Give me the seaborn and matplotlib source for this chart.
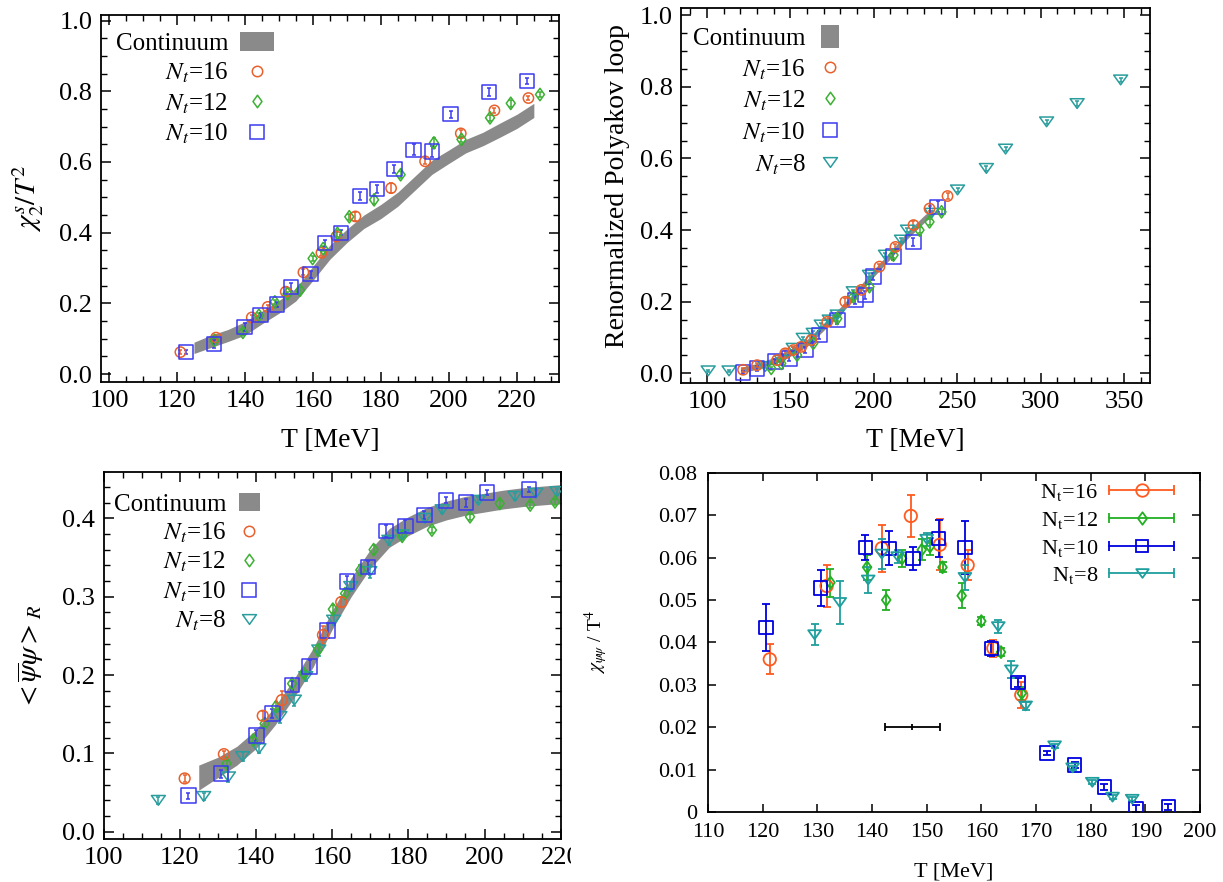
import numpy as np
import pandas as pd
import matplotlib
matplotlib.use("Agg")
import matplotlib.pyplot as plt
import seaborn as sns
from matplotlib.patches import Patch, Rectangle
from matplotlib.lines import Line2D
from matplotlib.path import Path
from matplotlib.markers import MarkerStyle
from matplotlib.legend_handler import HandlerLine2D, HandlerTuple
from matplotlib.ticker import MultipleLocator, FuncFormatter

# ---------------- Panel 1: strange quark number susceptibility ----------------
p1_band_T = [125, 130, 135, 140, 145, 150, 155, 160, 165, 170, 175, 180, 185, 190, 195, 200, 205, 210, 215, 220, 225]
p1_band_lo = [0.058, 0.075, 0.092, 0.110, 0.142, 0.172, 0.207, 0.265, 0.325, 0.372, 0.412, 0.440, 0.475, 0.520, 0.565, 0.596, 0.626, 0.646, 0.670, 0.695, 0.726]
p1_band_hi = [0.090, 0.110, 0.126, 0.148, 0.178, 0.208, 0.243, 0.305, 0.365, 0.410, 0.450, 0.480, 0.515, 0.560, 0.605, 0.634, 0.664, 0.684, 0.710, 0.735, 0.766]

p1_T16 = [121.0, 131.5, 142.0, 146.7, 152.0, 157.2, 162.5, 166.9, 172.5, 183.0, 193.0, 203.5, 213.4, 223.4]
p1_y16 = [0.062, 0.103, 0.160, 0.190, 0.233, 0.288, 0.343, 0.389, 0.446, 0.526, 0.602, 0.681, 0.746, 0.781]
p1_e16 = [0.006, 0.008, 0.006, 0.006, 0.012, 0.008, 0.008, 0.012, 0.012, 0.015, 0.008, 0.010, 0.008, 0.006]

p1_T12 = [131.0, 139.4, 144.1, 148.8, 152.5, 156.2, 159.9, 163.0, 167.2, 170.7, 178.0, 185.8, 195.6, 203.7, 212.1, 218.2, 226.8]
p1_y12 = [0.095, 0.118, 0.166, 0.204, 0.227, 0.237, 0.327, 0.355, 0.398, 0.445, 0.493, 0.564, 0.654, 0.664, 0.725, 0.766, 0.791]
p1_e12 = [0.006, 0.008, 0.006, 0.006, 0.006, 0.010, 0.008, 0.008, 0.010, 0.008, 0.012, 0.010, 0.015, 0.008, 0.008, 0.010, 0.008]

p1_T10 = [122.6, 131.0, 139.9, 144.6, 149.4, 153.6, 159.3, 163.6, 168.3, 173.8, 178.8, 184.0, 189.6, 195.1, 200.5, 211.7, 222.9]
p1_y10 = [0.062, 0.085, 0.133, 0.166, 0.197, 0.246, 0.282, 0.370, 0.400, 0.504, 0.523, 0.580, 0.635, 0.630, 0.735, 0.798, 0.829]
p1_e10 = [0.006, 0.010, 0.012, 0.008, 0.008, 0.012, 0.010, 0.010, 0.008, 0.012, 0.012, 0.012, 0.015, 0.015, 0.010, 0.010, 0.008]

# ---------------- Panel 2: renormalized Polyakov loop ----------------
p2_band_T = [120, 130, 140, 150, 160, 170, 180, 190, 200, 210, 220, 230, 235]
p2_band_lo = [0.000, 0.012, 0.026, 0.048, 0.075, 0.120, 0.165, 0.215, 0.270, 0.320, 0.375, 0.420, 0.440]
p2_band_hi = [0.016, 0.028, 0.044, 0.068, 0.095, 0.140, 0.185, 0.235, 0.290, 0.340, 0.395, 0.440, 0.460]

p2_T16 = [121.6, 130.0, 142.0, 146.9, 151.7, 156.5, 162.5, 172.1, 182.9, 192.5, 203.4, 213.0, 223.8, 233.4, 244.2]
p2_y16 = [0.010, 0.023, 0.037, 0.056, 0.065, 0.074, 0.093, 0.144, 0.200, 0.233, 0.298, 0.353, 0.414, 0.460, 0.495]
p2_e16 = [0.005, 0.006, 0.006, 0.008, 0.008, 0.010, 0.008, 0.008, 0.010, 0.008, 0.008, 0.008, 0.010, 0.008, 0.008]

p2_T12 = [138.5, 144.5, 154.0, 163.7, 178.1, 187.7, 197.4, 211.8, 227.4, 233.4, 240.6]
p2_y12 = [0.014, 0.028, 0.051, 0.084, 0.153, 0.214, 0.242, 0.330, 0.400, 0.423, 0.451]
p2_e12 = [0.005, 0.005, 0.006, 0.006, 0.006, 0.008, 0.008, 0.008, 0.008, 0.008, 0.008]

p2_T10 = [121.6, 130.0, 140.9, 149.3, 158.9, 167.3, 178.1, 188.9, 194.9, 199.8, 211.8, 223.8, 238.2]
p2_y10 = [0.002, 0.014, 0.033, 0.042, 0.065, 0.107, 0.149, 0.205, 0.219, 0.270, 0.326, 0.367, 0.465]
p2_e10 = [0.005, 0.006, 0.006, 0.008, 0.008, 0.010, 0.010, 0.012, 0.010, 0.010, 0.010, 0.012, 0.015]

p2_T8 = [100.7, 113.2, 134.9, 144.5, 151.7, 157.7, 163.7, 168.5, 173.3, 178.1, 187.7, 197.4, 207.0, 216.6, 220.2, 234.6, 250.2, 267.5, 279.0, 303.6, 321.9, 348.0]
p2_y8 = [0.007, 0.007, 0.019, 0.037, 0.070, 0.098, 0.112, 0.135, 0.149, 0.163, 0.228, 0.274, 0.330, 0.372, 0.400, 0.447, 0.512, 0.572, 0.626, 0.702, 0.753, 0.819]
p2_e8 = [0.003, 0.003, 0.004, 0.004, 0.004, 0.004, 0.005, 0.005, 0.005, 0.005, 0.005, 0.005, 0.006, 0.006, 0.006, 0.006, 0.006, 0.006, 0.006, 0.006, 0.006, 0.006]

# ---------------- Panel 3: renormalized chiral condensate ----------------
p3_band_T = [125, 130, 135, 140, 145, 150, 155, 160, 165, 170, 175, 180, 185, 190, 195, 200, 205, 210, 215, 220]
p3_band_lo = [0.053, 0.069, 0.085, 0.106, 0.136, 0.171, 0.210, 0.258, 0.300, 0.336, 0.363, 0.378, 0.390, 0.398, 0.404, 0.408, 0.412, 0.415, 0.417, 0.419]
p3_band_hi = [0.085, 0.095, 0.109, 0.130, 0.160, 0.195, 0.234, 0.282, 0.324, 0.360, 0.387, 0.402, 0.414, 0.422, 0.428, 0.432, 0.436, 0.439, 0.441, 0.443]

p3_T16 = [121.3, 131.6, 141.8, 146.8, 157.6, 162.4]
p3_y16 = [0.068, 0.099, 0.148, 0.168, 0.251, 0.293]
p3_e16 = [0.004, 0.004, 0.006, 0.012, 0.012, 0.006]

p3_T12 = [132.3, 139.3, 142.3, 145.3, 149.5, 152.6, 156.3, 160.2, 163.4, 167.4, 170.9, 178.4, 186.2, 196.2, 204.0, 212.0, 218.5]
p3_y12 = [0.087, 0.117, 0.138, 0.160, 0.189, 0.202, 0.232, 0.284, 0.304, 0.334, 0.360, 0.377, 0.385, 0.402, 0.419, 0.417, 0.421]
p3_e12 = [0.004, 0.004, 0.004, 0.005, 0.005, 0.005, 0.006, 0.005, 0.005, 0.006, 0.006, 0.005, 0.004, 0.004, 0.004, 0.004, 0.004]

p3_T10 = [122.3, 130.8, 140.1, 144.3, 149.5, 154.1, 158.8, 163.9, 169.4, 174.2, 179.2, 184.2, 189.9, 195.2, 200.7, 211.7]
p3_y10 = [0.046, 0.074, 0.123, 0.151, 0.187, 0.211, 0.257, 0.319, 0.338, 0.384, 0.390, 0.404, 0.423, 0.420, 0.433, 0.437]
p3_e10 = [0.004, 0.005, 0.007, 0.006, 0.006, 0.008, 0.010, 0.008, 0.008, 0.008, 0.008, 0.005, 0.004, 0.005, 0.003, 0.003]

p3_T8 = [114.4, 126.3, 132.8, 136.5, 140.8, 146.3, 150.1, 153.1, 156.5, 160.4, 164.9, 169.9, 174.9, 178.4, 184.4, 188.9, 198.4, 208.0, 213.5, 219.0]
p3_y8 = [0.040, 0.045, 0.070, 0.096, 0.106, 0.147, 0.168, 0.198, 0.232, 0.270, 0.313, 0.332, 0.372, 0.379, 0.400, 0.411, 0.423, 0.428, 0.432, 0.434]
p3_e8 = [0.004, 0.005, 0.006, 0.006, 0.006, 0.008, 0.008, 0.006, 0.008, 0.006, 0.006, 0.008, 0.006, 0.005, 0.004, 0.004, 0.004, 0.004, 0.004, 0.004]

# ---------------- Panel 4: chiral susceptibility ----------------
p4_T16 = [121.3, 131.7, 141.8, 147.1, 152.4, 157.5, 162.2, 167.3]
p4_y16 = [0.0360, 0.0533, 0.0622, 0.0698, 0.0630, 0.0582, 0.0386, 0.0276]
p4_e16 = [0.0035, 0.0050, 0.0055, 0.0050, 0.0060, 0.0035, 0.0020, 0.0030]

p4_T12 = [132.4, 139.1, 142.6, 145.5, 149.1, 150.6, 152.9, 156.4, 160.0, 163.6, 167.4]
p4_y12 = [0.0541, 0.0577, 0.0500, 0.0598, 0.0618, 0.0626, 0.0577, 0.0510, 0.0450, 0.0377, 0.0280]
p4_e12 = [0.0033, 0.0030, 0.0023, 0.0020, 0.0025, 0.0020, 0.0012, 0.0030, 0.0010, 0.0010, 0.0015]

p4_T10 = [120.6, 130.6, 138.8, 143.1, 147.5, 152.2, 157.0, 161.8, 166.7, 172.0, 177.1, 182.5, 188.3, 194.2]
p4_y10 = [0.0435, 0.0528, 0.0624, 0.0622, 0.0598, 0.0645, 0.0624, 0.0386, 0.0305, 0.0139, 0.0111, 0.0059, 0.0008, 0.0012]
p4_e10 = [0.0055, 0.0043, 0.0030, 0.0040, 0.0027, 0.0043, 0.0063, 0.0018, 0.0010, 0.0005, 0.0008, 0.0007, 0.0008, 0.0008]

p4_T8 = [129.5, 134.1, 139.3, 141.8, 144.7, 150.0, 157.0, 163.1, 165.5, 168.1, 173.4, 176.7, 180.3, 184.0, 187.6]
p4_y8 = [0.0418, 0.0494, 0.0547, 0.0608, 0.0602, 0.0643, 0.0553, 0.0437, 0.0335, 0.0250, 0.0156, 0.0104, 0.0070, 0.0035, 0.0030]
p4_e8 = [0.0025, 0.0050, 0.0030, 0.0035, 0.0015, 0.0015, 0.0030, 0.0015, 0.0020, 0.0010, 0.0005, 0.0005, 0.0005, 0.0005, 0.0005]

p4_Tc = [147.4]
p4_Tc_y = [0.020]
p4_Tc_err = [5.0]

labels_nt = ["16", "12", "10", "8"]

# ---------------- style ----------------
sns.set_theme(style="ticks")
plt.rcParams["font.family"] = ["Liberation Serif", "DejaVu Serif"]
plt.rcParams["mathtext.fontset"] = "stix"
plt.rcParams["axes.edgecolor"] = "black"
plt.rcParams["axes.linewidth"] = 1.1
plt.rcParams["xtick.color"] = "black"
plt.rcParams["ytick.color"] = "black"
plt.rcParams["text.color"] = "black"
plt.rcParams["axes.labelcolor"] = "black"

C16, C12, C10, C8 = "#e8602c", "#3cb034", "#3a3af0", "#2a9d9d"
P16, P12, P10, P8 = "#ff5a1f", "#22b022", "#0000e0", "#1f9e9e"
GRAY = "#8a8a8a"

DIAM = MarkerStyle(Path([(0, 1), (0.72, 0), (0, -1), (-0.72, 0), (0, 1)], closed=True))
TRI = MarkerStyle(Path([(-1, 0.7), (1, 0.7), (0, -0.7), (-1, 0.7)], closed=True))

W, H = 1223, 882
fig = plt.figure(figsize=(W / 100, H / 100), dpi=100)


def frac(l, t, r, b):
    return [l / W, 1 - b / H, (r - l) / W, (b - t) / H]


ax1 = fig.add_axes(frac(100.7, 15, 559, 382))
ax2 = fig.add_axes(frac(681, 8.3, 1150, 382.7))
ax3 = fig.add_axes(frac(103.5, 471.7, 560.7, 839))
ax4 = fig.add_axes(frac(708, 472.7, 1200, 812))


def pts(ax, T, y, color, marker, s, lw=1.1, z=3):
    sns.scatterplot(x=T, y=y, ax=ax, marker=marker, s=s, color=color,
                    facecolors="none", edgecolor=color, linewidth=lw,
                    zorder=z, legend=False)


def bars(ax, T, y, e, color, cap=1.6, lw=1.1, z=2.5):
    ax.errorbar(T, y, yerr=e, fmt="none", ecolor=color, elinewidth=lw,
                capsize=cap, capthick=lw, zorder=z)


def mathematica_frame(ax, xmaj, xmin, ymaj, ymin):
    ax.xaxis.set_major_locator(MultipleLocator(xmaj))
    ax.xaxis.set_minor_locator(MultipleLocator(xmin))
    ax.yaxis.set_major_locator(MultipleLocator(ymaj))
    ax.yaxis.set_minor_locator(MultipleLocator(ymin))
    ax.tick_params(which="both", direction="in", top=True, right=True,
                   labelsize=19, pad=6)
    ax.tick_params(which="major", length=7, width=1.1)
    ax.tick_params(which="minor", length=4, width=1.0)
    ax.yaxis.set_major_formatter(FuncFormatter(lambda v, p: f"{v:.1f}"))
    for sp in ax.spines.values():
        sp.set_visible(True)
        sp.set_linewidth(1.3)


def nt_handle(color, marker, ms):
    return Line2D([], [], ls="none", marker=marker, mfc="none", mec=color,
                  ms=ms, mew=1.1)


# ---------------- Panel 1 ----------------
ax1.fill_between(p1_band_T, p1_band_lo, p1_band_hi, color=GRAY, lw=0, zorder=1)
bars(ax1, p1_T16, p1_y16, p1_e16, C16)
pts(ax1, p1_T16, p1_y16, C16, "o", 55)
bars(ax1, p1_T12, p1_y12, p1_e12, C12)
pts(ax1, p1_T12, p1_y12, C12, DIAM, 80)
bars(ax1, p1_T10, p1_y10, p1_e10, C10)
pts(ax1, p1_T10, p1_y10, C10, "s", 105)
ax1.set_xlim(97.56, 232.4)
ax1.set_ylim(-0.0226, 1.016)
mathematica_frame(ax1, 20, 5, 0.2, 0.05)
ax1.set_xlabel("T [MeV]", fontsize=20)
ax1.xaxis.set_label_coords(0.5, -0.125)
ax1.set_ylabel(r"$\chi_2^s/T^2$", fontsize=21)
ax1.yaxis.set_label_coords(-0.119, 0.5)
h1 = [Patch(facecolor=GRAY, edgecolor="none"),
      nt_handle(C16, "o", 7.5), nt_handle(C12, DIAM, 9), nt_handle(C10, "s", 10)]
l1 = ["Continuum"] + [rf"$N_t$={n}" for n in labels_nt[:3]]
ax1.legend(h1, l1, loc="upper left", bbox_to_anchor=(0.033, 0.955),
           frameon=False, markerfirst=False, fontsize=18, handlelength=1.36,
           handleheight=0.8, handletextpad=0.45, labelspacing=0.25,
           borderpad=0, borderaxespad=0)

# ---------------- Panel 2 ----------------
ax2.fill_between(p2_band_T, p2_band_lo, p2_band_hi, color=GRAY, lw=0, zorder=1)
bars(ax2, p2_T8, p2_y8, p2_e8, C8)
pts(ax2, p2_T8, p2_y8, C8, TRI, 100)
bars(ax2, p2_T10, p2_y10, p2_e10, C10)
pts(ax2, p2_T10, p2_y10, C10, "s", 110)
bars(ax2, p2_T12, p2_y12, p2_e12, C12)
pts(ax2, p2_T12, p2_y12, C12, DIAM, 80)
bars(ax2, p2_T16, p2_y16, p2_e16, C16)
pts(ax2, p2_T16, p2_y16, C16, "o", 55)
ax2.set_xlim(84.4, 365.6)
ax2.set_ylim(-0.026, 1.019)
mathematica_frame(ax2, 50, 10, 0.2, 0.05)
ax2.set_xlabel("T [MeV]", fontsize=20)
ax2.xaxis.set_label_coords(0.5, -0.121)
ax2.set_ylabel("Renormalized Polyakov loop", fontsize=20)
ax2.yaxis.set_label_coords(-0.109, 0.525)
h2 = [Patch(facecolor=GRAY, edgecolor="none"),
      nt_handle(C16, "o", 7.5), nt_handle(C12, DIAM, 9),
      nt_handle(C10, "s", 10), nt_handle(C8, TRI, 10)]
l2 = ["Continuum"] + [rf"$N_t$={n}" for n in labels_nt]
ax2.legend(h2, l2, loc="upper left", bbox_to_anchor=(0.026, 0.955),
           frameon=False, markerfirst=False, fontsize=18, handlelength=0.75,
           handleheight=1.0, handletextpad=0.6, labelspacing=0.27,
           borderpad=0, borderaxespad=0)

# ---------------- Panel 3 ----------------
ax3.fill_between(p3_band_T, p3_band_lo, p3_band_hi, color=GRAY, lw=0, zorder=1)
bars(ax3, p3_T8, p3_y8, p3_e8, C8)
pts(ax3, p3_T8, p3_y8, C8, TRI, 100)
bars(ax3, p3_T12, p3_y12, p3_e12, C12)
pts(ax3, p3_T12, p3_y12, C12, DIAM, 80)
bars(ax3, p3_T10, p3_y10, p3_e10, C10)
pts(ax3, p3_T10, p3_y10, C10, "s", 110)
bars(ax3, p3_T16, p3_y16, p3_e16, C16)
pts(ax3, p3_T16, p3_y16, C16, "o", 60)
ax3.set_xlim(100, 220)
ax3.set_ylim(-0.0093, 0.4595)
mathematica_frame(ax3, 20, 5, 0.1, 0.02)
ax3.set_ylabel(r"${<}\overline{\psi}\psi{>}_R$", fontsize=21)
ax3.yaxis.set_label_coords(-0.126, 0.495)
h3 = [Patch(facecolor=GRAY, edgecolor="none"),
      nt_handle(C16, "o", 7.5), nt_handle(C12, DIAM, 9),
      nt_handle(C10, "s", 10), nt_handle(C8, TRI, 10)]
ax3.legend(h3, l2, loc="upper left", bbox_to_anchor=(0.022, 0.942),
           frameon=False, markerfirst=False, fontsize=18, handlelength=0.85,
           handleheight=0.75, handletextpad=0.5, labelspacing=0.2,
           borderpad=0, borderaxespad=0)

# ---------------- Panel 4 ----------------
series4 = [
    (p4_T16, p4_y16, p4_e16, P16, "o", 80),
    (p4_T12, p4_y12, p4_e12, P12, DIAM, 75),
    (p4_T10, p4_y10, p4_e10, P10, "s", 90),
    (p4_T8, p4_y8, p4_e8, P8, TRI, 85),
]
for T, y, e, c, m, s in series4:
    bars(ax4, T, y, e, c, cap=3.0, lw=1.3)
    pts(ax4, T, y, c, m, s, lw=1.3)
ax4.errorbar(p4_Tc, p4_Tc_y, xerr=p4_Tc_err, fmt="|", color="black",
             ms=5, mew=1.3, elinewidth=1.3, capsize=3, capthick=1.3, zorder=3)
ax4.set_xlim(110, 200)
ax4.set_ylim(0, 0.08)
ax4.xaxis.set_major_locator(MultipleLocator(10))
ax4.yaxis.set_major_locator(MultipleLocator(0.01))
ax4.yaxis.set_major_formatter(FuncFormatter(lambda v, p: "0" if abs(v) < 1e-9 else f"{v:.2f}"))
ax4.tick_params(which="major", direction="in", top=True, right=True,
                length=6, width=1.1, labelsize=16, pad=8)
for sp in ax4.spines.values():
    sp.set_visible(True)
    sp.set_linewidth(1.3)
ax4.set_xlabel("T [MeV]", fontsize=16)
ax4.xaxis.set_label_coords(0.5, -0.150)
ax4.set_ylabel(r"$\chi_{\psi\psi}$ / T$^4$", fontsize=14)
ax4.yaxis.set_label_coords(-0.199, 0.50)

h4, hmap = [], {}
for _, _, _, c, m, _ in series4:
    main = Line2D([], [], color=c, lw=1.3, marker=m, mfc="none", mec=c, ms=9, mew=1.3)
    caps = Line2D([], [], color=c, ls="none", marker="|", ms=7, mew=1.3)
    hmap[caps] = HandlerLine2D(numpoints=2, marker_pad=0)
    h4.append((main, caps))
hmap[tuple] = HandlerTuple(ndivide=1, pad=0)
l4 = [rf"N$_\mathrm{{t}}$={n}" for n in labels_nt]
ax4.legend(h4, l4, handler_map=hmap, loc="upper right",
           bbox_to_anchor=(0.947, 0.972), frameon=False, markerfirst=False,
           fontsize=16, handlelength=2.9, handletextpad=0.5, labelspacing=0.3,
           borderpad=0, borderaxespad=0, numpoints=1)

# screenshot crop of the last x tick label of the bottom-left panel
fig.patches.append(Rectangle((571 / W, 1 - 878 / H), 16 / W, 38 / H,
                             transform=fig.transFigure, facecolor="white",
                             edgecolor="none", zorder=10))

fig.savefig("out.png", dpi=100)
